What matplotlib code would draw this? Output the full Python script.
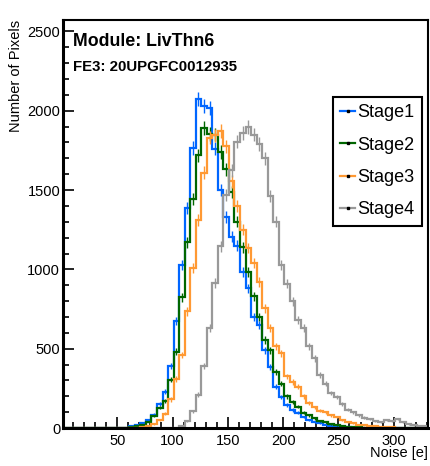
import numpy as np
import matplotlib

matplotlib.use("Agg")
import matplotlib.pyplot as plt  # noqa: E402
from matplotlib.lines import Line2D  # noqa: E402

plt.rcParams["font.family"] = ["Liberation Sans", "DejaVu Sans"]

# ---- data: noise histograms, 5 e bins starting at 1 e ----------------------
BIN_START = 1
BIN_WIDTH = 5
stage1 = [0] * 11 + [3, 10, 20, 30, 50, 85, 150, 228, 390, 675, 1025, 1385, 1765,
                     2075, 2030, 2015, 1760, 1500, 1330, 1205, 1150, 985, 880, 700,
                     650, 490, 385, 260, 195, 145, 113, 95, 70, 50, 40, 30, 22, 15,
                     10, 7, 5, 3, 2, 2, 1, 0, 1, 0, 0, 0, 0, 0, 0, 0, 0]
stage2 = [0] * 11 + [2, 6, 12, 22, 40, 75, 128, 170, 305, 480, 825, 1170, 1445,
                     1720, 1890, 1855, 1850, 1740, 1630, 1490, 1300, 1140, 985, 830,
                     700, 555, 490, 355, 280, 200, 165, 135, 95, 80, 60, 45, 35, 25,
                     18, 12, 9, 6, 4, 3, 2, 1, 0, 0, 0, 0, 0, 0, 0, 0, 0]
stage3 = [0] * 13 + [3, 8, 15, 25, 50, 90, 180, 310, 460, 735, 1010, 1310, 1610,
                     1830, 1845, 1870, 1775, 1555, 1400, 1250, 1135, 1040, 920, 755,
                     630, 515, 470, 325, 290, 260, 200, 155, 130, 110, 100, 80, 70,
                     50, 40, 30, 22, 18, 14, 10, 8, 6, 4, 3, 3, 2, 2, 1, 1]
stage4 = [0] * 20 + [3, 12, 42, 105, 210, 390, 630, 915, 1145, 1470, 1625, 1805,
                     1860, 1895, 1850, 1790, 1700, 1465, 1300, 1030, 910, 800, 680,
                     630, 515, 440, 335, 280, 220, 195, 150, 115, 100, 80, 65, 55,
                     45, 40, 50, 45, 55, 35, 25, 20, 15, 12]
labels = ["Stage1", "Stage2", "Stage3", "Stage4"]
colors = ["#0066ff", "#006600", "#ff9933", "#999999"]

module = "Module: LivThn6"
chip = "FE3: 20UPGFC0012935"

series = [stage1, stage2, stage3, stage4]
nbins = len(stage1)
edges = BIN_START + BIN_WIDTH * np.arange(nbins + 1)
centers = 0.5 * (edges[:-1] + edges[1:])

W, H = 430, 466
fig = plt.figure(figsize=(W / 100, H / 100), dpi=100)
ax = fig.add_axes([63 / W, 38 / H, 365 / W, 408 / H])

for vals, col in zip(series, colors):
    v = np.array(vals, dtype=float)
    ax.stairs(v, edges, baseline=None, color=col, lw=1.6, zorder=2)
    ax.errorbar(centers, v, yerr=np.sqrt(v), fmt="none", ecolor=col,
                elinewidth=1.0, zorder=2)

ax.set_xlim(edges[0], edges[-1])
ax.set_ylim(0, 2572)
ax.set_xticks([50, 100, 150, 200, 250, 300])
ax.set_xticks(np.arange(10, 331, 10), minor=True)
ax.set_yticks([0, 500, 1000, 1500, 2000, 2500])
ax.set_yticks(np.arange(0, 2572, 100), minor=True)
ax.tick_params(which="both", direction="in", top=False, right=False,
               labelsize=10.5, width=1.2, colors="black")
ax.tick_params(which="major", length=8, pad=4)
ax.tick_params(which="minor", length=4)
ax.tick_params(axis="y", pad=2)
for side in ("left", "bottom"):
    ax.spines[side].set_linewidth(2.2)
for side in ("top", "right"):
    ax.spines[side].set_linewidth(1.5)

ax.set_xlabel("Noise [e]", fontsize=10.5, loc="right")
ax.xaxis.set_label_coords(1.0, -0.045)
ax.set_ylabel("Number of Pixels", fontsize=10.5, loc="top")
ax.yaxis.set_label_coords(-0.11, 1.0)

fig.text(73 / W, 1 - 45.7 / H, module, fontsize=12.8, fontweight="bold",
         va="baseline", ha="left")
fig.text(73 / W, 1 - 71 / H, chip, fontsize=10.8, fontweight="bold",
         va="baseline", ha="left")

handles = [Line2D([], [], color=c, lw=1.6, marker="s", ms=1.5, mfc="black",
                  mec="black") for c in colors]
leg = ax.legend(handles, labels, loc="upper left", bbox_to_anchor=(0.74, 0.811),
                fontsize=13, frameon=True, fancybox=False, edgecolor="black",
                framealpha=1, handlelength=0.8, handletextpad=0.15,
                labelspacing=0.85, borderpad=0.4, borderaxespad=0)
leg.get_frame().set_linewidth(1.5)

fig.savefig("out.png", dpi=100)
